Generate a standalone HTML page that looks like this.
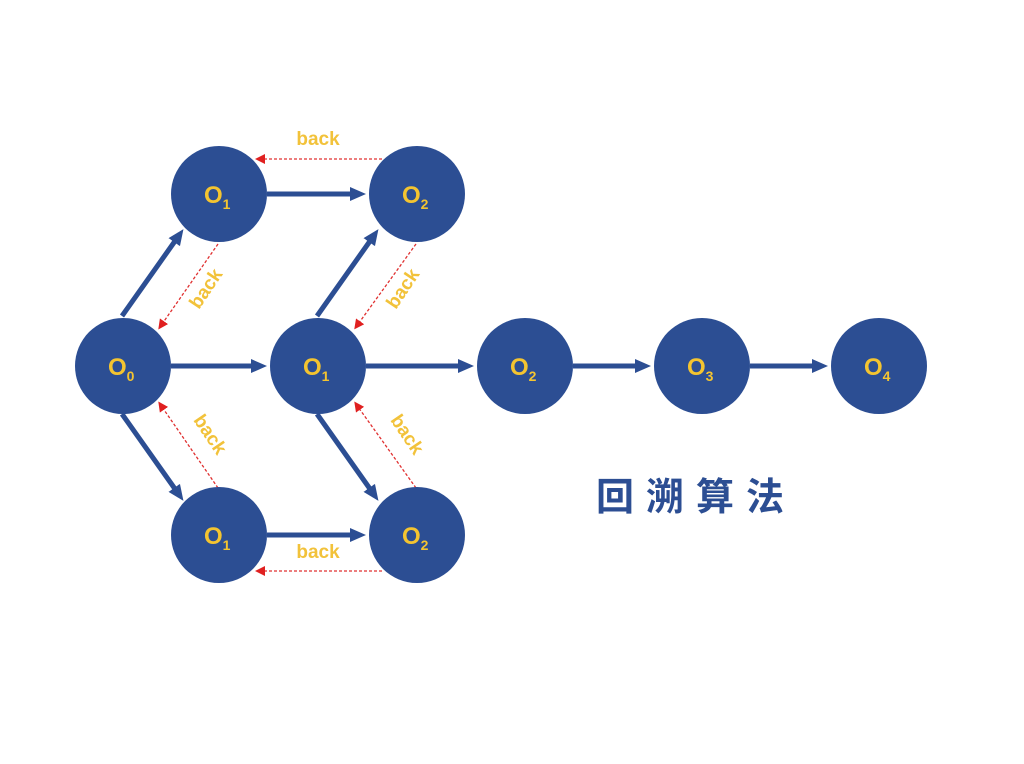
<!DOCTYPE html>
<html><head><meta charset="utf-8"><style>
html,body{margin:0;padding:0;background:#fff;}
svg{display:block;}
.n{fill:#2c4e93;}
.t{fill:#f4c430;font-family:"Liberation Sans",sans-serif;font-weight:bold;font-size:24px;}
.s{font-size:14px;}
.b{fill:#f2c23a;font-family:"Liberation Sans",sans-serif;font-weight:bold;font-size:19px;}
.a{stroke:#2c4e93;stroke-width:5;fill:none;}
.r{stroke:#e03030;stroke-width:1.3;stroke-dasharray:3 2;fill:none;}
</style></head><body>
<svg width="1024" height="764" viewBox="0 0 1024 764">
<defs>
<marker id="ah" markerWidth="16" markerHeight="14" refX="10" refY="7" orient="auto" markerUnits="userSpaceOnUse"><path d="M0,0 L16,7 L0,14 Z" fill="#2c4e93"/></marker>
<marker id="rh" markerWidth="10" markerHeight="10" refX="7" refY="5" orient="auto" markerUnits="userSpaceOnUse"><path d="M0,0 L10,5 L0,10 Z" fill="#e02020"/></marker>
</defs>
<line class="a" x1="122" y1="316" x2="180" y2="234" marker-end="url(#ah)"/>
<line class="a" x1="267" y1="194" x2="360" y2="194" marker-end="url(#ah)"/>
<line class="a" x1="317" y1="316" x2="375" y2="234" marker-end="url(#ah)"/>
<line class="a" x1="171" y1="366" x2="261" y2="366" marker-end="url(#ah)"/>
<line class="a" x1="366" y1="366" x2="468" y2="366" marker-end="url(#ah)"/>
<line class="a" x1="573" y1="366" x2="645" y2="366" marker-end="url(#ah)"/>
<line class="a" x1="750" y1="366" x2="822" y2="366" marker-end="url(#ah)"/>
<line class="a" x1="122" y1="414" x2="180" y2="496" marker-end="url(#ah)"/>
<line class="a" x1="317" y1="414" x2="375" y2="496" marker-end="url(#ah)"/>
<line class="a" x1="267" y1="535" x2="360" y2="535" marker-end="url(#ah)"/>
<line class="r" x1="382" y1="159" x2="258" y2="159" marker-end="url(#rh)"/>
<line class="r" x1="218" y1="244" x2="160" y2="327" marker-end="url(#rh)"/>
<line class="r" x1="416" y1="244" x2="356" y2="327" marker-end="url(#rh)"/>
<line class="r" x1="218" y1="488" x2="160" y2="404" marker-end="url(#rh)"/>
<line class="r" x1="416" y1="488" x2="356" y2="404" marker-end="url(#rh)"/>
<line class="r" x1="382" y1="571" x2="258" y2="571" marker-end="url(#rh)"/>
<text class="b" x="318" y="145" text-anchor="middle">back</text>
<text class="b" x="318" y="558" text-anchor="middle">back</text>
<text class="b" transform="translate(211,292) rotate(-56)" text-anchor="middle">back</text>
<text class="b" transform="translate(408,292) rotate(-56)" text-anchor="middle">back</text>
<text class="b" transform="translate(205,438) rotate(56)" text-anchor="middle">back</text>
<text class="b" transform="translate(402,438) rotate(56)" text-anchor="middle">back</text>
<g>
<circle class="n" cx="123" cy="366" r="48"/><text class="t" x="108" y="375">O<tspan class="s" dy="6">0</tspan></text>
<circle class="n" cx="219" cy="194" r="48"/><text class="t" x="204" y="203">O<tspan class="s" dy="6">1</tspan></text>
<circle class="n" cx="417" cy="194" r="48"/><text class="t" x="402" y="203">O<tspan class="s" dy="6">2</tspan></text>
<circle class="n" cx="318" cy="366" r="48"/><text class="t" x="303" y="375">O<tspan class="s" dy="6">1</tspan></text>
<circle class="n" cx="525" cy="366" r="48"/><text class="t" x="510" y="375">O<tspan class="s" dy="6">2</tspan></text>
<circle class="n" cx="702" cy="366" r="48"/><text class="t" x="687" y="375">O<tspan class="s" dy="6">3</tspan></text>
<circle class="n" cx="879" cy="366" r="48"/><text class="t" x="864" y="375">O<tspan class="s" dy="6">4</tspan></text>
<circle class="n" cx="219" cy="535" r="48"/><text class="t" x="204" y="544">O<tspan class="s" dy="6">1</tspan></text>
<circle class="n" cx="417" cy="535" r="48"/><text class="t" x="402" y="544">O<tspan class="s" dy="6">2</tspan></text>
</g>
<text x="596" y="510" fill="#2c4e93" style="font-family:'Liberation Sans','Noto Sans CJK SC',sans-serif;font-weight:bold;font-size:38px;letter-spacing:12px">回溯算法</text>
</svg>
</body></html>
